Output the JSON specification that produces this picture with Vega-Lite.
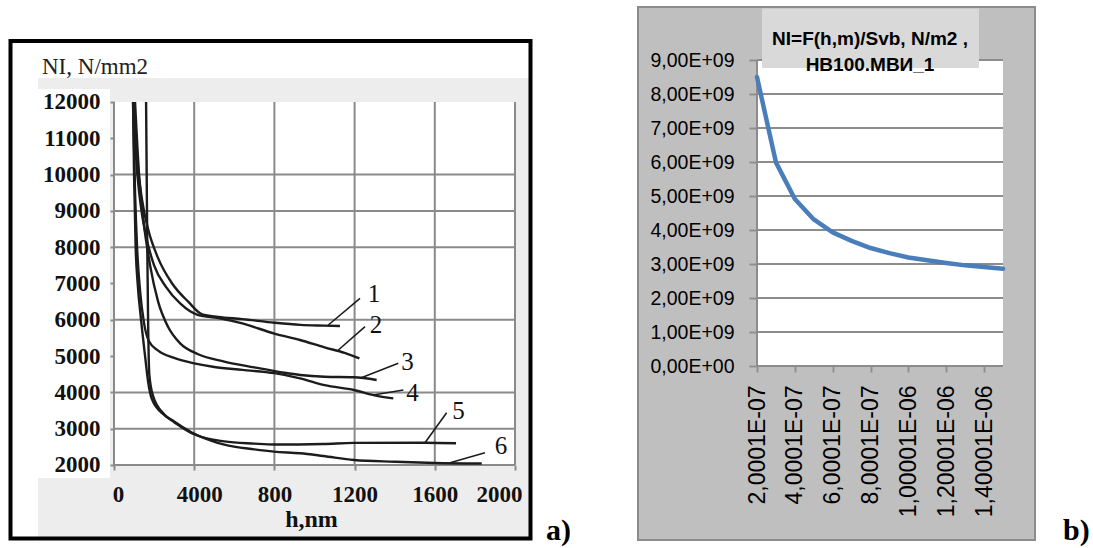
{
  "$schema": "https://vega.github.io/schema/vega-lite/v6.json",
  "padding": 0,
  "spacing": 0,
  "bounds": "flush",
  "background": "white",
  "config": {"view": {"stroke": null}},
  "datasets": {
    "curves": [
      {"s": 1, "h": 100, "ni": 12000}, {"s": 1, "h": 115, "ni": 10500}, {"s": 1, "h": 140, "ni": 9300}, {"s": 1, "h": 170, "ni": 8500}, {"s": 1, "h": 220, "ni": 7700}, {"s": 1, "h": 290, "ni": 7000}, {"s": 1, "h": 370, "ni": 6500}, {"s": 1, "h": 440, "ni": 6150}, {"s": 1, "h": 520, "ni": 6080}, {"s": 1, "h": 640, "ni": 6020}, {"s": 1, "h": 800, "ni": 5920}, {"s": 1, "h": 930, "ni": 5860}, {"s": 1, "h": 1050, "ni": 5840}, {"s": 1, "h": 1127, "ni": 5829},
      {"s": 2, "h": 98, "ni": 12000}, {"s": 2, "h": 110, "ni": 10500}, {"s": 2, "h": 130, "ni": 9300}, {"s": 2, "h": 160, "ni": 8300}, {"s": 2, "h": 200, "ni": 7500}, {"s": 2, "h": 260, "ni": 6900}, {"s": 2, "h": 330, "ni": 6450}, {"s": 2, "h": 420, "ni": 6130}, {"s": 2, "h": 520, "ni": 6050}, {"s": 2, "h": 640, "ni": 5900}, {"s": 2, "h": 800, "ni": 5620}, {"s": 2, "h": 928, "ni": 5443}, {"s": 2, "h": 1050, "ni": 5240}, {"s": 2, "h": 1150, "ni": 5090}, {"s": 2, "h": 1224, "ni": 4939},
      {"s": 3, "h": 105, "ni": 12000}, {"s": 3, "h": 125, "ni": 10000}, {"s": 3, "h": 150, "ni": 8600}, {"s": 3, "h": 180, "ni": 7500}, {"s": 3, "h": 220, "ni": 6500}, {"s": 3, "h": 270, "ni": 5800}, {"s": 3, "h": 330, "ni": 5350}, {"s": 3, "h": 420, "ni": 5050}, {"s": 3, "h": 550, "ni": 4850}, {"s": 3, "h": 700, "ni": 4690}, {"s": 3, "h": 850, "ni": 4540}, {"s": 3, "h": 928, "ni": 4479}, {"s": 3, "h": 1050, "ni": 4430}, {"s": 3, "h": 1197, "ni": 4416}, {"s": 3, "h": 1310, "ni": 4342},
      {"s": 4, "h": 95, "ni": 12000}, {"s": 4, "h": 105, "ni": 9500}, {"s": 4, "h": 115, "ni": 8000}, {"s": 4, "h": 130, "ni": 6800}, {"s": 4, "h": 150, "ni": 5900}, {"s": 4, "h": 175, "ni": 5400}, {"s": 4, "h": 220, "ni": 5150}, {"s": 4, "h": 300, "ni": 4950}, {"s": 4, "h": 400, "ni": 4800}, {"s": 4, "h": 500, "ni": 4700}, {"s": 4, "h": 640, "ni": 4620}, {"s": 4, "h": 800, "ni": 4530}, {"s": 4, "h": 928, "ni": 4388}, {"s": 4, "h": 1050, "ni": 4200}, {"s": 4, "h": 1197, "ni": 4066}, {"s": 4, "h": 1300, "ni": 3920}, {"s": 4, "h": 1393, "ni": 3837},
      {"s": 5, "h": 160, "ni": 12000}, {"s": 5, "h": 163, "ni": 10000}, {"s": 5, "h": 166, "ni": 8000}, {"s": 5, "h": 170, "ni": 6000}, {"s": 5, "h": 176, "ni": 4500}, {"s": 5, "h": 195, "ni": 3900}, {"s": 5, "h": 250, "ni": 3400}, {"s": 5, "h": 300, "ni": 3200}, {"s": 5, "h": 380, "ni": 2920}, {"s": 5, "h": 412, "ni": 2826}, {"s": 5, "h": 550, "ni": 2650}, {"s": 5, "h": 700, "ni": 2590}, {"s": 5, "h": 798, "ni": 2565}, {"s": 5, "h": 1043, "ni": 2580}, {"s": 5, "h": 1197, "ni": 2610}, {"s": 5, "h": 1550, "ni": 2614}, {"s": 5, "h": 1706, "ni": 2600},
      {"s": 6, "h": 95, "ni": 12000}, {"s": 6, "h": 100, "ni": 10000}, {"s": 6, "h": 108, "ni": 8000}, {"s": 6, "h": 118, "ni": 7000}, {"s": 6, "h": 135, "ni": 6000}, {"s": 6, "h": 155, "ni": 5000}, {"s": 6, "h": 170, "ni": 4300}, {"s": 6, "h": 190, "ni": 3800}, {"s": 6, "h": 250, "ni": 3380}, {"s": 6, "h": 300, "ni": 3180}, {"s": 6, "h": 380, "ni": 2900}, {"s": 6, "h": 412, "ni": 2826}, {"s": 6, "h": 550, "ni": 2560}, {"s": 6, "h": 700, "ni": 2430}, {"s": 6, "h": 798, "ni": 2367}, {"s": 6, "h": 928, "ni": 2322}, {"s": 6, "h": 1043, "ni": 2248}, {"s": 6, "h": 1197, "ni": 2138}, {"s": 6, "h": 1400, "ni": 2090}, {"s": 6, "h": 1600, "ni": 2055}, {"s": 6, "h": 1834, "ni": 2040}
    ],
    "curveLabels": [
      {"n": "1", "h": 1297, "ni": 6711},
      {"n": "2", "h": 1307, "ni": 5857},
      {"n": "3", "h": 1464, "ni": 4851},
      {"n": "4", "h": 1489, "ni": 3970},
      {"n": "5", "h": 1718, "ni": 3501},
      {"n": "6", "h": 1930, "ni": 2510}
    ],
    "leaders": [
      {"h": 1069, "ni": 5857, "h2": 1227, "ni2": 6592},
      {"h": 1119, "ni": 5168, "h2": 1252, "ni2": 5810},
      {"h": 1227, "ni": 4388, "h2": 1418, "ni2": 4802},
      {"h": 1293, "ni": 3928, "h2": 1443, "ni2": 4066},
      {"h": 1551, "ni": 2614, "h2": 1659, "ni2": 3441},
      {"h": 1676, "ni": 2063, "h2": 1850, "ni2": 2339}
    ],
    "gridA": [
      {"h": 0, "h2": 0, "ni": 2000, "ni2": 12000},
      {"h": 400, "h2": 400, "ni": 2000, "ni2": 12000},
      {"h": 800, "h2": 800, "ni": 2000, "ni2": 12000},
      {"h": 1200, "h2": 1200, "ni": 2000, "ni2": 12000},
      {"h": 1600, "h2": 1600, "ni": 2000, "ni2": 12000},
      {"h": 2000, "h2": 2000, "ni": 2000, "ni2": 12000},
      {"h": 0, "h2": 2000, "ni": 2000, "ni2": 2000},
      {"h": 0, "h2": 2000, "ni": 3000, "ni2": 3000},
      {"h": 0, "h2": 2000, "ni": 4000, "ni2": 4000},
      {"h": 0, "h2": 2000, "ni": 6000, "ni2": 6000},
      {"h": 0, "h2": 2000, "ni": 8000, "ni2": 8000},
      {"h": 0, "h2": 2000, "ni": 9000, "ni2": 9000},
      {"h": 0, "h2": 2000, "ni": 10000, "ni2": 10000}
    ],
    "excel": [
      {"h": 2.0001e-7, "ni": 8.5e9},
      {"h": 3.0001e-7, "ni": 5.99e9},
      {"h": 4.0001e-7, "ni": 4.91e9},
      {"h": 5.0001e-7, "ni": 4.31e9},
      {"h": 6.0001e-7, "ni": 3.93e9},
      {"h": 7.0001e-7, "ni": 3.68e9},
      {"h": 8.0001e-7, "ni": 3.47e9},
      {"h": 9.0001e-7, "ni": 3.32e9},
      {"h": 1.00001e-6, "ni": 3.19e9},
      {"h": 1.10001e-6, "ni": 3.11e9},
      {"h": 1.20001e-6, "ni": 3.03e9},
      {"h": 1.30001e-6, "ni": 2.96e9},
      {"h": 1.40001e-6, "ni": 2.91e9},
      {"h": 1.50001e-6, "ni": 2.86e9}
    ],
    "gridB": [
      {"ni": 1e9}, {"ni": 2e9}, {"ni": 3e9}, {"ni": 4e9}, {"ni": 5e9},
      {"ni": 6e9}, {"ni": 7e9}, {"ni": 8e9}, {"ni": 9e9}
    ]
  },
  "hconcat": [
    {
      "width": 580,
      "height": 548,
      "layer": [
        {
          "data": {"values": [{}]},
          "mark": {"type": "rect", "fill": "#ededed"},
          "encoding": {
            "x": {"datum": -379.1, "type": "quantitative", "scale": {"domain": [-568.6, 2324.2], "nice": false, "zero": false}},
            "x2": {"datum": 2077.3},
            "y": {"datum": 12661, "type": "quantitative", "scale": {"domain": [-286.5, 14809.9], "nice": false, "zero": false}},
            "y2": {"datum": -24.8}
          }
        },
        {
          "data": {"values": [{}]},
          "mark": {"type": "rect", "fill": "white"},
          "encoding": {
            "x": {"datum": -379.1, "type": "quantitative"},
            "x2": {"datum": -20},
            "y": {"datum": 12358, "type": "quantitative"},
            "y2": {"datum": 1642}
          }
        },
        {
          "data": {"values": [{}]},
          "mark": {"type": "rect", "fill": "white"},
          "encoding": {
            "x": {"datum": 0, "type": "quantitative"},
            "x2": {"datum": 2000},
            "y": {"datum": 2000, "type": "quantitative"},
            "y2": {"datum": 12000}
          }
        },
        {
          "data": {"values": [{}]},
          "mark": {"type": "rect", "fill": null, "stroke": "black", "strokeWidth": 4},
          "encoding": {
            "x": {"datum": -516.2, "type": "quantitative"},
            "x2": {"datum": 2077.3},
            "y": {"datum": -24.8, "type": "quantitative"},
            "y2": {"datum": 13680.4}
          }
        },
        {
          "data": {"name": "gridA"},
          "mark": {"type": "rule", "stroke": "#8a8a8a", "strokeWidth": 2},
          "encoding": {
            "x": {"field": "h", "type": "quantitative"},
            "x2": {"field": "h2"},
            "y": {"field": "ni", "type": "quantitative"},
            "y2": {"field": "ni2"}
          }
        },
        {
          "data": {"name": "curves"},
          "mark": {"type": "line", "interpolate": "monotone", "stroke": "#1c1c1c", "strokeWidth": 2.4},
          "encoding": {
            "detail": {"field": "s"},
            "order": {"field": "h", "type": "quantitative"},
            "x": {
              "field": "h", "type": "quantitative",
              "axis": {
                "orient": "bottom", "offset": -83, "zindex": 1, "title": null,
                "values": [0, 400, 800, 1200, 1600, 2000],
                "domain": false, "grid": false,
                "ticks": true, "tickSize": 5, "tickColor": "#8a8a8a", "tickWidth": 2,
                "labelExpr": "datum.value == 400 ? '4000' : format(datum.value, 'd')",
                "labelFont": "Liberation Serif", "labelFontWeight": "bold", "labelFontSize": 23,
                "labelColor": "#111", "labelPadding": 13, "labelFlush": false, "labelOverlap": false,
                "labelOffset": {"condition": [{"test": "datum.value == 0", "value": 4}, {"test": "datum.value == 400", "value": 5}, {"test": "datum.value == 2000", "value": -16}], "value": 0}
              }
            },
            "y": {
              "field": "ni", "type": "quantitative",
              "axis": {
                "orient": "left", "offset": -114, "zindex": 1, "title": null,
                "values": [2000, 3000, 4000, 5000, 6000, 7000, 8000, 9000, 10000, 11000, 12000],
                "domain": false, "grid": false,
                "ticks": true, "tickSize": 4, "tickColor": "#8a8a8a", "tickWidth": 2,
                "labelExpr": "format(datum.value, 'd')",
                "labelFont": "Liberation Serif", "labelFontWeight": "bold", "labelFontSize": 23,
                "labelColor": "#111", "labelPadding": 10, "labelOverlap": false
              }
            }
          }
        },
        {
          "data": {"name": "leaders"},
          "mark": {"type": "rule", "stroke": "#1c1c1c", "strokeWidth": 1.6},
          "encoding": {
            "x": {"field": "h", "type": "quantitative"},
            "x2": {"field": "h2"},
            "y": {"field": "ni", "type": "quantitative"},
            "y2": {"field": "ni2"}
          }
        },
        {
          "data": {"name": "curveLabels"},
          "mark": {"type": "text", "font": "Liberation Serif", "fontSize": 25, "color": "#111", "align": "center", "baseline": "middle"},
          "encoding": {
            "x": {"field": "h", "type": "quantitative"},
            "y": {"field": "ni", "type": "quantitative"},
            "text": {"field": "n"}
          }
        },
        {
          "data": {"values": [{}]},
          "mark": {"type": "text", "font": "Liberation Serif", "fontSize": 23, "color": "#222", "align": "left", "baseline": "alphabetic", "text": "NI, N/mm2"},
          "encoding": {
            "x": {"datum": -359.1, "type": "quantitative"},
            "y": {"datum": 12771, "type": "quantitative"}
          }
        },
        {
          "data": {"values": [{}]},
          "mark": {"type": "text", "font": "Liberation Serif", "fontWeight": "bold", "fontSize": 24, "color": "#111", "align": "center", "baseline": "alphabetic", "text": "h,nm"},
          "encoding": {
            "x": {"datum": 985, "type": "quantitative"},
            "y": {"datum": 292, "type": "quantitative"}
          }
        },
        {
          "data": {"values": [{}]},
          "mark": {"type": "text", "font": "Liberation Serif", "fontWeight": "bold", "fontSize": 30, "color": "black", "align": "left", "baseline": "alphabetic", "text": "a)"},
          "encoding": {
            "x": {"datum": 2154.6, "type": "quantitative"},
            "y": {"datum": -66.1, "type": "quantitative"}
          }
        }
      ]
    },
    {
      "width": 513,
      "height": 548,
      "layer": [
        {
          "data": {"values": [{}]},
          "mark": {"type": "rect", "fill": "#bfbfbf", "stroke": "#8c8c8c", "strokeWidth": 2},
          "encoding": {
            "x": {"datum": -4.289e-7, "type": "quantitative", "scale": {"domain": [-7.354e-7, 19.756e-7], "nice": false, "zero": false}},
            "x2": {"datum": 16.691e-7},
            "y": {"datum": 10.559e9, "type": "quantitative", "scale": {"domain": [-5.353e9, 10.765e9], "nice": false, "zero": false}},
            "y2": {"datum": -5.118e9}
          }
        },
        {
          "data": {"values": [{}]},
          "mark": {"type": "rect", "fill": "white"},
          "encoding": {
            "x": {"datum": 2.0001e-7, "type": "quantitative"},
            "x2": {"datum": 1.50001e-6},
            "y": {"datum": 0, "type": "quantitative"},
            "y2": {"datum": 9e9}
          }
        },
        {
          "data": {"name": "gridB"},
          "mark": {"type": "rule", "stroke": "#8c8c8c", "strokeWidth": 1.8},
          "encoding": {
            "x": {"datum": 2.0001e-7, "type": "quantitative"},
            "x2": {"datum": 1.50001e-6},
            "y": {"field": "ni", "type": "quantitative"}
          }
        },
        {
          "data": {"values": [{}]},
          "mark": {"type": "rule", "stroke": "#8c8c8c", "strokeWidth": 2},
          "encoding": {
            "x": {"datum": 2.0001e-7, "type": "quantitative"},
            "x2": {"datum": 1.50001e-6},
            "y": {"datum": 0, "type": "quantitative"}
          }
        },
        {
          "data": {"values": [{}]},
          "mark": {"type": "rule", "stroke": "#8c8c8c", "strokeWidth": 2},
          "encoding": {
            "x": {"datum": 2.0001e-7, "type": "quantitative"},
            "y": {"datum": 0, "type": "quantitative"},
            "y2": {"datum": 9e9}
          }
        },
        {
          "data": {"values": [{}]},
          "mark": {"type": "rect", "fill": "#d9d9d9"},
          "encoding": {
            "x": {"datum": 2.264e-7, "type": "quantitative"},
            "x2": {"datum": 13.732e-7},
            "y": {"datum": 10.512e9, "type": "quantitative"},
            "y2": {"datum": 8.765e9}
          }
        },
        {
          "data": {"values": [{}]},
          "mark": {"type": "text", "font": "Liberation Sans", "fontWeight": "bold", "fontSize": 19, "color": "black", "align": "center", "baseline": "middle", "lineHeight": 26, "text": ["NI=F(h,m)/Svb, N/m2 ,", "НВ100.МВИ_1"]},
          "encoding": {
            "x": {"datum": 7.972e-7, "type": "quantitative"},
            "y": {"datum": 9.62e9, "type": "quantitative"}
          }
        },
        {
          "data": {"name": "excel"},
          "mark": {"type": "line", "stroke": "#4a7ebb", "strokeWidth": 4.5, "strokeCap": "round", "strokeJoin": "round"},
          "encoding": {
            "x": {
              "field": "h", "type": "quantitative",
              "axis": {
                "orient": "bottom", "offset": -182, "zindex": 1, "title": null,
                "values": [2.0001e-7, 3.0001e-7, 4.0001e-7, 5.0001e-7, 6.0001e-7, 7.0001e-7, 8.0001e-7, 9.0001e-7, 1.00001e-6, 1.10001e-6, 1.20001e-6, 1.30001e-6, 1.40001e-6, 1.50001e-6],
                "domain": false, "grid": false,
                "ticks": true, "tickSize": 6, "tickColor": "#8c8c8c", "tickWidth": 1.8,
                "labelExpr": "(round(datum.value * 1e7) % 2 == 1) ? '' : (round(datum.value * 1e7) < 10 ? round(datum.value * 1e7) + ',0001E-07' : '1,' + (round(datum.value * 1e7) - 10) + '0001E-06')",
                "labelAngle": 270, "labelFont": "Liberation Sans", "labelFontSize": 23,
                "labelColor": "black", "labelPadding": 13, "labelFlush": false, "labelOverlap": false
              }
            },
            "y": {
              "field": "ni", "type": "quantitative",
              "axis": {
                "orient": "left", "offset": -177, "zindex": 1, "title": null,
                "values": [0, 1e9, 2e9, 3e9, 4e9, 5e9, 6e9, 7e9, 8e9, 9e9],
                "domain": false, "grid": false,
                "ticks": true, "tickSize": 8, "tickColor": "#8c8c8c", "tickWidth": 1.8,
                "labelExpr": "datum.value == 0 ? '0,00E+00' : round(datum.value / 1e9) + ',00E+09'",
                "labelFont": "Liberation Sans", "labelFontSize": 19.5,
                "labelColor": "black", "labelPadding": 15, "labelOverlap": false
              }
            }
          }
        },
        {
          "data": {"values": [{}]},
          "mark": {"type": "text", "font": "Liberation Serif", "fontWeight": "bold", "fontSize": 30, "color": "black", "align": "left", "baseline": "alphabetic", "text": "b)"},
          "encoding": {
            "x": {"datum": 18.171e-7, "type": "quantitative"},
            "y": {"datum": -5.118e9, "type": "quantitative"}
          }
        }
      ]
    }
  ]
}
